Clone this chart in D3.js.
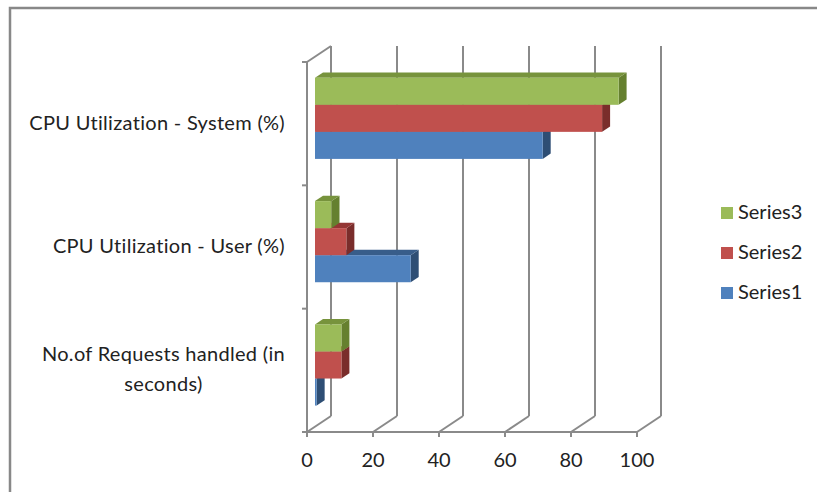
<!DOCTYPE html>
<html>
<head>
<meta charset="utf-8">
<script src="https://cdn.jsdelivr.net/npm/d3@7"></script>
<style>
  body { margin: 0; background: #fff; }
  svg text { font-family: Lato, "Open Sans", sans-serif; fill: #222; }
</style>
</head>
<body>
<svg id="chart" width="817" height="492"></svg>
<script>
// chart data, categories listed bottom to top
var categories = ["No.of Requests handled (in seconds)", "CPU Utilization - User (%)", "CPU Utilization - System (%)"];
var seriesNames = ["Series1", "Series2", "Series3"];
var series1 = [0.5, 29, 69];
var series2 = [8, 9.5, 87];
var series3 = [8, 5, 92];
var xTicks = [0, 20, 40, 60, 80, 100];

var svg = d3.select("#chart");

// colours: front, top, side
var colors = {
  Series1: ["#4f81bd", "#385d8a", "#2e4e74"],
  Series2: ["#c0504d", "#943634", "#7a2d2b"],
  Series3: ["#9bbb59", "#77933c", "#65802f"]
};
var gridColor = "#8a8a8a";

// plot box (front plane) + depth offset of the 3d floor
var plotLeft = 307, plotRight = 637, plotTop = 62, plotBottom = 432;
var depth = { dx: 24, dy: -16 };

var x = d3.scaleLinear().domain([0, 100]).range([plotLeft, plotRight]);
var y = d3.scaleBand().domain(categories).range([plotBottom, plotTop]).padding(0);
var ys = d3.scaleBand().domain(seriesNames.slice().reverse())
  .range([0, y.bandwidth()]).paddingInner(0).paddingOuter(0.78);

// chart frame (only top and left visible in the crop)
svg.append("path").attr("d", "M10,492V8H817")
  .attr("fill", "none").attr("stroke", "#888").attr("stroke-width", 2.5);

var grid = svg.append("g").attr("stroke", gridColor).attr("stroke-width", 2).attr("fill", "none");

// back wall gridlines and floor diagonals
xTicks.forEach(function(t) {
  grid.append("line")
    .attr("x1", x(t) + depth.dx).attr("x2", x(t) + depth.dx)
    .attr("y1", plotTop + depth.dy).attr("y2", plotBottom + depth.dy);
  grid.append("line")
    .attr("x1", x(t)).attr("y1", plotBottom)
    .attr("x2", x(t) + depth.dx).attr("y2", plotBottom + depth.dy);
});
// top of left wall
grid.append("line").attr("x1", plotLeft).attr("y1", plotTop)
  .attr("x2", plotLeft + depth.dx).attr("y2", plotTop + depth.dy);

// front axes
grid.append("line").attr("x1", plotLeft).attr("x2", plotLeft).attr("y1", plotTop).attr("y2", plotBottom);
grid.append("line").attr("x1", plotLeft).attr("x2", plotRight).attr("y1", plotBottom).attr("y2", plotBottom);
xTicks.forEach(function(t) {
  grid.append("line").attr("x1", x(t)).attr("x2", x(t)).attr("y1", plotBottom).attr("y2", plotBottom + 5);
});
var bounds = categories.map(function(c) { return y(c); }).concat([plotBottom]);
bounds.forEach(function(b) {
  grid.append("line").attr("x1", plotLeft - 5).attr("x2", plotLeft).attr("y1", b).attr("y2", b);
});

// x tick labels
svg.append("g").selectAll("text").data(xTicks).enter().append("text")
  .attr("x", function(d) { return x(d); })
  .attr("y", 467)
  .attr("text-anchor", "middle")
  .style("font-size", "20px")
  .text(function(d) { return d; });

// category labels, wrapped ones centered in a right aligned block
var labelLines = {
  "No.of Requests handled (in seconds)": ["No.of Requests handled (in", "seconds)"]
};
categories.forEach(function(c) {
  var lines = labelLines[c] || [c];
  var cy = y(c) + y.bandwidth() / 2;
  var t = svg.append("text").style("font-size", "20px").style("letter-spacing", "0.3px");
  var lh = 30;
  var y0 = cy + 6 - (lines.length - 1) * lh / 2;
  lines.forEach(function(l, i) {
    t.append("tspan").attr("y", y0 + i * lh).text(l);
  });
  var maxW = 0;
  t.selectAll("tspan").each(function() { maxW = Math.max(maxW, this.getComputedTextLength()); });
  if (lines.length > 1) {
    t.attr("text-anchor", "middle").selectAll("tspan").attr("x", 285 - maxW / 2);
  } else {
    t.attr("text-anchor", "end").selectAll("tspan").attr("x", 285);
  }
});

// 3d bars: they sit in the middle third of the depth
var f0 = 1 / 3, f1 = 2 / 3;
var seriesValues = { Series1: series1, Series2: series2, Series3: series3 };
var bars = svg.append("g");
seriesNames.forEach(function(s) {
  categories.forEach(function(c, i) {
    var v = seriesValues[s][i];
    var ox = depth.dx * f0, oy = depth.dy * f0;
    var bx = depth.dx * (f1 - f0), by = depth.dy * (f1 - f0);
    var x0 = x(0) + ox, x1 = x(v) + ox;
    var yt = y(c) + ys(s) + oy, yb = yt + ys.bandwidth();
    var g = bars.append("g");
    // side
    g.append("path")
      .attr("d", "M" + x1 + "," + yt + "L" + (x1 + bx) + "," + (yt + by) +
        "L" + (x1 + bx) + "," + (yb + by) + "L" + x1 + "," + yb + "Z")
      .attr("fill", colors[s][2]);
    // top
    g.append("path")
      .attr("d", "M" + x0 + "," + yt + "L" + (x0 + bx) + "," + (yt + by) +
        "L" + (x1 + bx) + "," + (yt + by) + "L" + x1 + "," + yt + "Z")
      .attr("fill", colors[s][1]);
    // front
    g.append("rect")
      .attr("x", x0).attr("y", yt)
      .attr("width", x1 - x0).attr("height", yb - yt)
      .attr("fill", colors[s][0]);
  });
});

// legend
var legend = svg.append("g").selectAll("g").data(seriesNames.slice().reverse()).enter().append("g")
  .attr("transform", function(d, i) { return "translate(721," + (207 + i * 40) + ")"; });
legend.append("rect").attr("width", 12).attr("height", 12)
  .attr("fill", function(d) { return colors[d][0]; });
legend.append("text").attr("x", 17).attr("y", 12)
  .style("font-size", "20px")
  .text(function(d) { return d; });
</script>
</body>
</html>
